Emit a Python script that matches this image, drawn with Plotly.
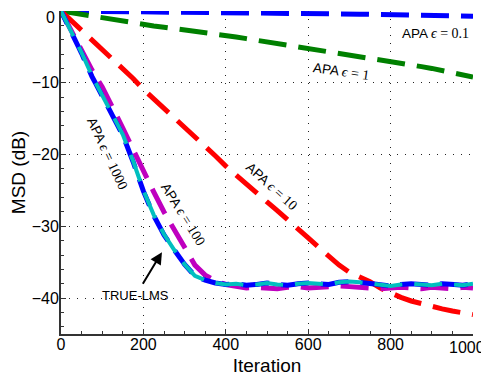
import plotly.graph_objects as go

# ---------------- data ----------------
iters = list(range(0, 1001, 25))

apa_01 = [0.0, -0.01, -0.03, -0.04, -0.05, -0.06, -0.08, -0.09, -0.1, -0.11,
          -0.13, -0.14, -0.15, -0.16, -0.18, -0.19, -0.2, -0.22, -0.23, -0.25,
          -0.26, -0.28, -0.3, -0.31, -0.33, -0.35, -0.37, -0.4, -0.42, -0.44,
          -0.47, -0.49, -0.52, -0.54, -0.57, -0.6, -0.62, -0.65, -0.67, -0.7, -0.72]

apa_1 = [0.0, -0.25, -0.5, -0.75, -1.0, -1.23, -1.46, -1.68, -1.9, -2.08,
         -2.26, -2.43, -2.6, -2.8, -3.0, -3.2, -3.4, -3.62, -3.85, -4.07,
         -4.3, -4.52, -4.75, -4.97, -5.2, -5.42, -5.65, -5.87, -6.1, -6.32,
         -6.55, -6.77, -7.0, -7.25, -7.5, -7.75, -8.0, -8.3, -8.6, -8.9, -9.2]

apa_10 = [0.0, -1.35, -2.7, -4.0, -5.3, -6.6, -7.9, -9.4, -10.9, -12.2,
          -13.5, -14.9, -16.3, -17.5, -18.8, -20.2, -21.6, -22.9, -24.1, -25.4,
          -26.6, -27.8, -29.0, -30.3, -31.6, -32.9, -34.2, -35.4, -36.4, -37.1,
          -37.7, -38.6, -39.3, -39.9, -40.4, -40.8, -41.2, -41.5, -41.8, -42.0, -42.3]

apa_100 = [0.0, -2.7, -5.6, -8.2, -10.6, -13.3, -16.3, -19.3, -22.4, -25.2,
           -28.0, -30.4, -33.0, -35.4, -36.8, -37.6, -38.1, -38.4, -38.6, -38.5,
           -38.6, -38.7, -38.5, -38.4, -38.6, -38.5, -38.4, -38.3, -38.4, -38.5,
           -38.6, -38.7, -38.6, -38.5, -38.6, -38.7, -38.5, -38.6, -38.7, -38.5, -38.6]

apa_1000 = [0.0, -2.9, -5.9, -9.1, -11.9, -14.6, -17.3, -21.0, -25.1, -28.5,
            -31.2, -33.3, -35.3, -36.9, -37.5, -37.9, -38.1, -38.0, -38.2, -38.1,
            -37.9, -38.1, -38.2, -38.0, -37.9, -38.0, -38.1, -37.8, -37.7, -37.8,
            -38.0, -38.2, -38.3, -38.1, -38.0, -38.1, -38.2, -38.0, -38.1, -38.2, -38.0]

true_lms = [0.0, -2.8, -5.8, -9.0, -11.8, -14.5, -17.2, -20.9, -25.0, -28.4,
            -31.1, -33.3, -35.3, -36.9, -37.5, -37.9, -38.1, -38.0, -38.2, -38.1,
            -37.9, -38.1, -38.2, -38.0, -37.9, -38.0, -38.1, -37.8, -37.7, -37.8,
            -38.0, -38.2, -38.3, -38.1, -38.0, -38.1, -38.2, -38.0, -38.1, -38.2, -38.0]

x_ticks = [0, 200, 400, 600, 800, 1000]
x_ticktext = ["0", "200", "400", "600", "800", ""]   # "1000" drawn separately (kept inside page)
y_ticks = [0, -10, -20, -30, -40]
y_ticktext = ["", "−10", "−20", "−30", "−40"]      # "0" drawn separately (kept inside page)

# ---------------- figure ----------------
DASH = "28px,12px"
fig = go.Figure()
fig.add_trace(go.Scatter(x=iters, y=apa_01, mode="lines",
                         line=dict(color="#0000ff", width=5, dash=DASH)))
fig.add_trace(go.Scatter(x=iters, y=apa_1, mode="lines",
                         line=dict(color="#008000", width=5, dash=DASH)))
fig.add_trace(go.Scatter(x=iters, y=apa_10, mode="lines",
                         line=dict(color="#ff0000", width=5, dash=DASH)))
fig.add_trace(go.Scatter(x=iters, y=apa_100, mode="lines",
                         line=dict(color="#bf00bf", width=5, dash=DASH)))
fig.add_trace(go.Scatter(x=iters, y=apa_1000, mode="lines",
                         line=dict(color="#0000ff", width=5, dash="14px,12px,14px,0px")))
fig.add_trace(go.Scatter(x=iters, y=true_lms, mode="lines",
                         line=dict(color="#00bfbf", width=4, dash=DASH)))

SERIF = "font-family:'Liberation Serif';font-size:14px"

def lab(eps):
    return f"APA <span style=\"{SERIF}\"><i>ϵ</i> = {eps}</span>"

TICKFONT = dict(family="Liberation Sans, Arial", size=16, color="black")
ann_font = dict(family="Liberation Sans, Arial", size=13.5, color="black")
annotations = [
    dict(x=910, y=-3.1, text=lab("0.1"), textangle=0),
    dict(x=681, y=-8.4, text=lab("1"), textangle=8),
    dict(x=512, y=-24.4, text=lab("10"), textangle=42),
    dict(x=297, y=-28.3, text=lab("100"), textangle=58),
    dict(x=113, y=-19.8, text=lab("1000"), textangle=65),
]
for a in annotations:
    a.update(xref="x", yref="y", showarrow=False, font=ann_font)
annotations.append(dict(x=182, y=-39.7, xref="x", yref="y", text="TRUE-LMS",
                        showarrow=False, font=dict(family="Liberation Sans, Arial",
                                                    size=13, color="black")))
annotations.append(dict(x=245, y=-33.6, xref="x", yref="y", text="",
                        showarrow=True, arrowhead=2, arrowsize=1.2, arrowwidth=2,
                        arrowcolor="black", ax=-20, ay=33))
annotations.append(dict(x=0, y=0, xref="paper", yref="y", text="0",
                        xanchor="right", yanchor="top", xshift=-4, yshift=4,
                        showarrow=False, font=TICKFONT))
annotations.append(dict(x=1000, y=0, xref="x", yref="paper", text="1000",
                        xanchor="center", yanchor="top", xshift=-6, yshift=-3,
                        showarrow=False, font=TICKFONT))

axis_common = dict(
    showline=True, linecolor="#333333", linewidth=2,
    ticks="inside", ticklen=5, tickcolor="#333333", tickwidth=1,
    showgrid=True, gridcolor="#222222", gridwidth=1, griddash="1px,7px",
    zeroline=False, automargin=False, ticklabeloverflow="allow",
    tickfont=TICKFONT,
    minor=dict(ticks="inside", ticklen=3, tickcolor="#333333", showgrid=False),
)

fig.update_layout(
    width=489, height=377,
    margin=dict(l=53, r=24, t=3, b=51),
    paper_bgcolor="white", plot_bgcolor="white",
    showlegend=False,
    annotations=annotations,
    xaxis=dict(range=[0, 1000], tickmode="array", tickvals=x_ticks, ticktext=x_ticktext,
               ticklabelstandoff=-5,
               title=dict(text="Iteration", standoff=6,
                          font=dict(family="Liberation Sans, Arial", size=19, color="black")),
               **axis_common),
    yaxis=dict(range=[-45, 0], tickmode="array", tickvals=y_ticks, ticktext=y_ticktext,
               ticklabelstandoff=-3,
               title=dict(text="MSD (dB)", standoff=4,
                          font=dict(family="Liberation Sans, Arial", size=19, color="black")),
               **axis_common),
)
fig.update_xaxes(minor=dict(dtick=50))
fig.update_yaxes(minor=dict(dtick=2))

fig.write_html("out.html")
